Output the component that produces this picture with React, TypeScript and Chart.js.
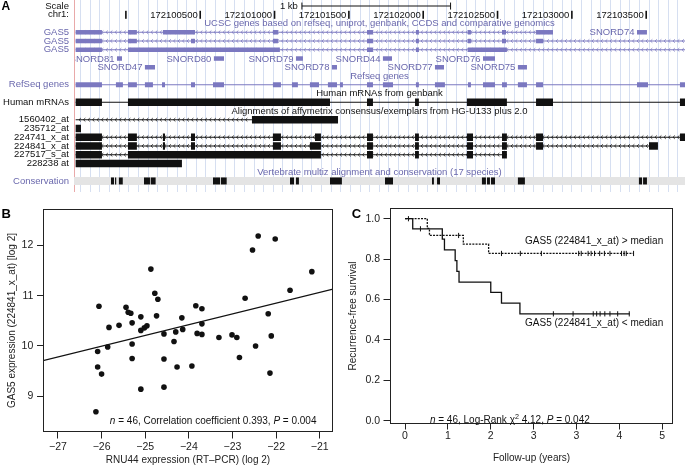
import React, { useEffect, useRef } from 'react';
import { Chart, registerables } from 'chart.js';

Chart.register(...registerables);

const FONT = '"Liberation Sans", Arial, Helvetica, sans-serif';
const LAV = '#7b78c0';
const LAV_TEXT = '#6a68ad';
const GUIDE = '#d6dff1';
const INK = '#222222';

// ================= Panel A : genome browser data =================
const ROW_NAMES = ['Scale', 'chr1:', '', 'GAS5', 'GAS5', 'GAS5', '', '', '', 'RefSeq genes', '', 'Human mRNAs', '',
  '1560402_at', '235712_at', '224741_x_at', '224841_x_at', '227517_s_at', '228238 at', '', 'Conservation'];
const LAV_ROWS = [3, 4, 5, 9, 20];
const VIEW_START = 172099651;
const VIEW_END = 172103761;
const CHR_TICKS = [172100000, 172100500, 172101000, 172101500, 172102000, 172102500, 172103000, 172103500];
const CHR_TICK_LABELS = ['', '172100500', '172101000', '172101500', '172102000', '172102500', '172103000', '172103500'];
const SCALE_BAR = [172101184, 172102184];
const SCALE_LABEL = '1 kb';
const TRACK_TITLES = [
  'UCSC genes based on refseq, uniprot, genbank, CCDS and comparative genomics',
  'Refseq genes',
  'Human mRNAs from genbank',
  'Alignments of affymetrix consensus/exemplars from HG-U133 plus 2.0',
  'Vertebrate multiz alignment and conservation (17 species)',
];
const TRACK_TITLE_ROWS = [2, 8, 10, 12, 19];
const TRACK_TITLE_LAV = [true, true, false, false, true];

const GENE_START = 172099662;
const GAS5_ROWS = [3, 4, 5];
const GAS5_ENDS = [172102873, 172103800, 172103800];
const GAS5_EXONS = [
  [[172099662, 172099839], [172100014, 172100074], [172100249, 172100465], [172100989, 172101023], [172101622, 172101662],
    [172101951, 172101971], [172102301, 172102321], [172102530, 172102557], [172102759, 172102873]],
  [[172099662, 172099839], [172100014, 172100074], [172100438, 172100465], [172100989, 172101023], [172101622, 172101662],
    [172101951, 172101971], [172102301, 172102321], [172102530, 172102557], [172102759, 172102806]],
  [[172099662, 172099839], [172100014, 172101036], [172101622, 172101662], [172101951, 172101971], [172102301, 172102563]],
];
const SNORD_NAMES = ['SNORD81', 'SNORD47', 'SNORD80', 'SNORD79', 'SNORD78', 'SNORD44', 'SNORD77', 'SNORD76', 'SNORD75', 'SNORD74'];
const SNORD_ROWS = [6, 7, 6, 6, 7, 6, 7, 6, 7, 3];
const SNORD_SPANS = [[172099940, 172099974], [172100128, 172100196], [172100592, 172100660], [172101144, 172101191],
  [172101386, 172101420], [172101729, 172101790], [172102079, 172102140], [172102402, 172102483], [172102637, 172102698],
  [172103438, 172103505]];
const REFSEQ_ROW = 9;
const REFSEQ_EXONS = [[172099662, 172099839], [172099933, 172099980], [172100014, 172100074], [172100128, 172100182],
  [172100243, 172100263], [172100438, 172100465], [172100586, 172100660], [172100989, 172101043], [172101117, 172101157],
  [172101238, 172101299], [172101359, 172101420], [172101440, 172101460], [172101622, 172101662], [172101729, 172101797],
  [172101951, 172101971], [172102079, 172102146], [172102301, 172102321], [172102402, 172102483], [172102530, 172102563],
  [172102637, 172102698], [172102759, 172102806], [172103438, 172103512], [172103727, 172103800]];
const MRNA_ROW = 11;
const MRNA_EXONS = [[172099662, 172099839], [172100014, 172101373], [172101622, 172101662], [172101945, 172101971],
  [172102294, 172102563], [172102759, 172102873], [172103727, 172103800]];
const PROBE_ROWS = [13, 14, 15, 16, 17, 18];
const PROBE_LINES = [[172099662, 172100848], null, [172099662, 172103800], [172099662, 172103579], [172099662, 172102563], null];
const PROBE_BLOCKS = [
  [[172100848, 172101427]],
  [[172099662, 172099698]],
  [[172099662, 172099839], [172100014, 172100074], [172100249, 172100263], [172100438, 172100465], [172100989, 172101043],
    [172101272, 172101312], [172101622, 172101662], [172101945, 172101971], [172102294, 172102335], [172102530, 172102563],
    [172102759, 172102806], [172103727, 172103800]],
  [[172099662, 172099839], [172100014, 172100074], [172100249, 172100263], [172100438, 172100465], [172100989, 172101043],
    [172101238, 172101312], [172101622, 172101662], [172101945, 172101971], [172102294, 172102335], [172102530, 172102563],
    [172102759, 172102806], [172103519, 172103579]],
  [[172099662, 172099839], [172100014, 172101312], [172101622, 172101662], [172101945, 172101971], [172102294, 172102335],
    [172102530, 172102563]],
  [[172099662, 172100377]],
];
const CONS_ROW = 20;
const CONS_BLOCKS = [[172099900, 172099920], [172099927, 172099935], [172099953, 172099979], [172100122, 172100162],
  [172100167, 172100200], [172100586, 172100633], [172100639, 172100678], [172101104, 172101131], [172101144, 172101164],
  [172101373, 172101453], [172101743, 172101797], [172102059, 172102072], [172102093, 172102113], [172102395, 172102422],
  [172102429, 172102449], [172102456, 172102483], [172102637, 172102684], [172103451, 172103472], [172103479, 172103505]];

// guideline spacing (layout only)
const GUIDE_START = 172099696;
const GUIDE_STEP = 64.8;

// ================= Panel B data =================
const B_X = [-26.06, -25.83, -25.60, -25.44, -25.39, -25.33, -25.30, -25.10, -25.10, -25.02, -24.96, -24.87, -24.78,
  -24.71, -24.74, -24.57, -24.30, -24.16, -24.14, -23.84, -23.70, -23.70, -23.81, -23.70, -23.01, -22.71, -22.54,
  -22.41, -22.02, -21.68, -21.18, -22.18, -22.11, -24.34, -23.31, -22.90, -22.84, -22.47, -22.14, -26.09, -25.86,
  -26.09, -26.00, -25.30, -25.30, -25.10, -24.57, -24.57, -24.27, -23.93, -26.13];
const B_Y = [10.79, 10.37, 10.41, 10.77, 10.67, 10.65, 10.46, 10.58, 10.31, 10.36, 10.40, 11.53, 11.05,
  10.93, 10.60, 10.24, 10.28, 10.56, 10.33, 10.80, 10.74, 10.44, 10.25, 10.23, 10.22, 10.95, 11.91,
  12.19, 12.13, 11.11, 11.48, 10.64, 10.20, 10.09, 10.17, 10.17, 9.77, 10.00, 9.46, 9.89, 9.98,
  9.58, 9.44, 10.04, 9.75, 9.14, 9.74, 9.18, 9.58, 9.60, 8.69];
const B_FIT_INTERCEPT = 15.555;
const B_FIT_SLOPE = 0.2138;
const B_X_TICKS = [-27, -26, -25, -24, -23, -22, -21];
const B_Y_TICKS = [9, 10, 11, 12];
const B_X_TITLE = 'RNU44 expression (RT\u2013PCR) (log 2)';
const B_Y_TITLE = 'GAS5 expression (224841_x_at) [log 2]';
const B_NOTE: [string, string][] = [['n', 'i'], [' = 46, Correlation coefficient 0.393, ', 'n'], ['P', 'i'], [' = 0.004', 'n']];

// ================= Panel C data =================
const C_LOW_T = [0, 0.18, 0.87, 0.92, 1.17, 1.21, 1.26, 2.00, 2.25, 2.68, 5.24];
const C_LOW_S = [1.0, 0.950, 0.899, 0.846, 0.792, 0.739, 0.686, 0.635, 0.582, 0.529, 0.529];
const C_HIGH_T = [0, 0.52, 0.57, 1.36, 1.95, 5.33];
const C_HIGH_S = [1.0, 0.952, 0.917, 0.874, 0.828, 0.828];
const C_LOW_CENSOR = [0.36, 3.46, 3.92, 4.39, 4.47, 4.55, 4.66, 4.78, 4.96, 5.23];
const C_HIGH_CENSOR = [0.08, 1.25, 2.25, 2.69, 3.18, 4.05, 4.11, 4.27, 4.34, 4.42, 4.54, 4.65, 4.78, 5.05, 5.11, 5.16, 5.33];
const C_X_TICKS = [0, 1, 2, 3, 4, 5, 6];
const C_X_TICK_LABELS = ['0', '1', '2', '3', '3', '4', '5'];
const C_Y_TICKS = [0, 0.2, 0.4, 0.6, 0.8, 1.0];
const C_X_TITLE = 'Follow-up (years)';
const C_Y_TITLE = 'Recurrence-free survival';
const C_GROUP_LABELS = ['GAS5 (224841_x_at) > median', 'GAS5 (224841_x_at) < median'];
const C_NOTE: [string, string][] = [['n', 'i'], [' = 46, Log-Rank ', 'n'], ['\u03c7', 'n'], ['2', 's'], [' 4.12, ', 'n'], ['P', 'i'], [' = 0.042', 'n']];

// ---------------- helpers ----------------
function drawRich(ctx: CanvasRenderingContext2D, segs: [string, string][], x: number, y: number, size: number) {
  let cx = x;
  ctx.textAlign = 'left';
  ctx.textBaseline = 'alphabetic';
  for (const [t, st] of segs) {
    const fs = st === 's' ? size * 0.72 : size;
    ctx.font = `${st === 'i' ? 'italic ' : ''}${fs}px ${FONT}`;
    ctx.fillText(t, cx, st === 's' ? y - size * 0.42 : y);
    cx += ctx.measureText(t).width;
  }
}

function survAt(T: number[], S: number[], t: number) {
  let s = S[0];
  for (let i = 0; i < T.length; i++) if (T[i] <= t) s = S[i];
  return s;
}

const boxPlugin = {
  id: 'rbox',
  afterDraw(chart: any) {
    const { ctx, chartArea: a } = chart;
    ctx.save();
    ctx.strokeStyle = INK;
    ctx.lineWidth = 1;
    ctx.strokeRect(a.left + 0.5, a.top + 0.5, a.right - a.left - 1, a.bottom - a.top - 1);
    ctx.restore();
  },
};

function letter(ctx: CanvasRenderingContext2D, t: string, x: number, y: number, size: number) {
  ctx.save();
  ctx.font = `bold ${size}px ${FONT}`;
  ctx.fillStyle = '#000';
  ctx.textAlign = 'left';
  ctx.textBaseline = 'alphabetic';
  ctx.fillText(t, x, y);
  ctx.restore();
}

const baseOpts = {
  responsive: false,
  animation: false as const,
  events: [] as any[],
  plugins: { legend: { display: false }, tooltip: { enabled: false } },
};

// ---------------- Panel A ----------------
function PanelA() {
  const ref = useRef<HTMLCanvasElement>(null);
  useEffect(() => {
    const span = (s: number[], row: number) => ({ x: s, y: row });
    const barDs = (label: string, data: any[], color: string, thick: number, extra: any = {}) => ({
      label, data, backgroundColor: color, barThickness: thick, borderWidth: 0, grouped: false,
      inflateAmount: 0, borderSkipped: false, ...extra,
    });
    const datasets = [
      barDs('snoRNA', SNORD_SPANS.map((s, i) => span(s, SNORD_ROWS[i])), LAV, 4.5),
      barDs('GAS5 exons', GAS5_EXONS.flatMap((ex, t) => ex.map((s) => span(s, GAS5_ROWS[t]))), LAV, 4.5),
      barDs('RefSeq', REFSEQ_EXONS.map((s) => span(s, REFSEQ_ROW)), LAV, 5),
      barDs('mRNA', MRNA_EXONS.map((s) => span(s, MRNA_ROW)), '#111', 7.5),
      barDs('probes', PROBE_BLOCKS.flatMap((b, k) => b.map((s) => span(s, PROBE_ROWS[k]))), '#111', 7.5),
      barDs('conservation', CONS_BLOCKS.map((s) => span(s, CONS_ROW)), '#111', 7),
      barDs('GAS5 introns', GAS5_ROWS.map((r, t) => span([GENE_START, GAS5_ENDS[t]], r)), LAV, 1, { chevrons: LAV }),
      barDs('RefSeq line', [span([GENE_START, 172103800], REFSEQ_ROW)], LAV, 1),
      barDs('mRNA line', [span([GENE_START, 172103800], MRNA_ROW)], '#111', 1),
      barDs('probe lines', PROBE_LINES.map((l, k) => (l ? span(l, PROBE_ROWS[k]) : null)).filter(Boolean), '#111', 1, { chevrons: '#111' }),
      barDs('scale', [span(SCALE_BAR, 0)], '#111', 1),
      barDs('cons band', [span([VIEW_START, VIEW_END], CONS_ROW)], '#e4e4e4', 8),
    ];

    const chevronPlugin = {
      id: 'chev',
      afterDatasetDraw(chart: any, args: any) {
        const ds = chart.data.datasets[args.index];
        if (!ds.chevrons) return;
        const { ctx, chartArea: a } = chart;
        ctx.save();
        ctx.beginPath();
        ctx.rect(a.left, a.top, a.right - a.left, a.bottom - a.top);
        ctx.clip();
        ctx.strokeStyle = ds.chevrons;
        ctx.lineWidth = 0.8;
        for (const el of args.meta.data) {
          const p = el.getProps(['x', 'base', 'y'], true);
          const x0 = Math.min(p.x, p.base);
          const x1 = Math.max(p.x, p.base);
          for (let px = x0 + 4; px < x1 - 2; px += 4.5) {
            ctx.beginPath();
            ctx.moveTo(px + 1.2, p.y - 1.7);
            ctx.lineTo(px - 0.6, p.y);
            ctx.lineTo(px + 1.2, p.y + 1.7);
            ctx.stroke();
          }
        }
        ctx.restore();
      },
    };

    const textPlugin = {
      id: 'trackText',
      afterDatasetsDraw(chart: any) {
        const { ctx, chartArea: a, scales } = chart;
        const xs = scales.x;
        const ys = scales.y;
        ctx.save();
        ctx.font = `9.5px ${FONT}`;
        ctx.textBaseline = 'middle';
        // track titles
        ctx.textAlign = 'center';
        TRACK_TITLES.forEach((t, i) => {
          ctx.fillStyle = TRACK_TITLE_LAV[i] ? LAV_TEXT : '#111';
          ctx.fillText(t, (a.left + a.right) / 2, ys.getPixelForValue(TRACK_TITLE_ROWS[i]));
        });
        // chromosome positions
        const cy = ys.getPixelForValue(1);
        ctx.fillStyle = '#111';
        ctx.textAlign = 'right';
        CHR_TICKS.forEach((p, i) => {
          const px = xs.getPixelForValue(p);
          if (CHR_TICK_LABELS[i]) ctx.fillText(CHR_TICK_LABELS[i], px - 2.5, cy + 0.5);
          ctx.fillRect(px - 0.8, cy - 4, 1.6, 8);
        });
        // scale bar ends + label
        const sy = ys.getPixelForValue(0);
        const s0 = xs.getPixelForValue(SCALE_BAR[0]);
        const s1 = xs.getPixelForValue(SCALE_BAR[1]);
        ctx.fillRect(s0 - 0.5, sy - 3.5, 1, 7);
        ctx.fillRect(s1 - 0.5, sy - 3.5, 1, 7);
        ctx.fillText(SCALE_LABEL, s0 - 4, sy + 0.5);
        // snoRNA labels, clipped to the track area
        ctx.beginPath();
        ctx.rect(a.left + 1, a.top, a.right - a.left, a.bottom - a.top);
        ctx.clip();
        ctx.fillStyle = LAV_TEXT;
        SNORD_NAMES.forEach((n, i) => {
          ctx.fillText(n, xs.getPixelForValue(SNORD_SPANS[i][0]) - 2.5, ys.getPixelForValue(SNORD_ROWS[i]) + 0.5);
        });
        ctx.restore();
        letter(ctx, 'A', 1.5, 10, 12);
      },
    };

    const chart = new Chart(ref.current as HTMLCanvasElement, {
      type: 'bar',
      data: { datasets: datasets as any },
      options: {
        ...baseOpts,
        indexAxis: 'y',
        layout: { padding: 0 },
        scales: {
          x: {
            type: 'linear', position: 'bottom', min: VIEW_START, max: VIEW_END, beginAtZero: false,
            afterFit: (s: any) => { s.height = 0; },
            afterBuildTicks: (s: any) => {
              const t = [];
              for (let v = GUIDE_START; v <= VIEW_END; v += GUIDE_STEP) t.push({ value: v });
              s.ticks = t;
            },
            ticks: { display: false },
            grid: { color: GUIDE, lineWidth: 1, drawTicks: false, drawOnChartArea: true, offset: false },
            border: { display: false },
          },
          y: {
            type: 'linear', reverse: true, min: -0.686, max: 21.257, offset: false,
            afterFit: (s: any) => { s.width = 74; },
            afterBuildTicks: (s: any) => { s.ticks = ROW_NAMES.map((_, i) => ({ value: i })); },
            ticks: {
              autoSkip: false, padding: 0,
              font: { family: FONT, size: 9.5, lineHeight: 0.01 },
              color: (c: any) => (LAV_ROWS.includes(c.index) ? LAV_TEXT : '#111'),
              callback: (v: any) => ROW_NAMES[v as number] ?? '',
            },
            grid: { display: false, drawTicks: true, tickLength: 5, offset: false },
            border: { display: true, color: '#e9a9a9', width: 1 },
          },
        },
      } as any,
      plugins: [chevronPlugin, textPlugin],
    });
    return () => chart.destroy();
  }, []);
  return <canvas ref={ref} width={685} height={192} style={{ position: 'absolute', left: 0, top: 0, width: 685, height: 192 }} />;
}

// ---------------- shared axis builder ----------------
function axis(o: any) {
  return {
    type: 'linear',
    position: o.pos,
    min: o.min,
    max: o.max,
    afterFit: (s: any) => { if (o.pos === 'left') s.width = o.size; else s.height = o.size; },
    afterBuildTicks: (s: any) => { s.ticks = o.ticks.map((v: number) => ({ value: v })); },
    ticks: {
      autoSkip: false, padding: o.tickPad, color: INK, maxRotation: 0,
      font: { family: FONT, size: 10.5 },
      callback: o.cb,
    },
    grid: { display: true, drawOnChartArea: false, drawTicks: true, tickLength: o.tickLen, color: INK, tickColor: INK, lineWidth: 1 },
    border: { display: false },
    title: {
      display: true, text: o.title, color: INK,
      font: { family: FONT, size: 10 },
      padding: o.pos === 'left' ? { top: o.titlePad, bottom: 0 } : { top: 0, bottom: o.titlePad },
    },
  };
}

// ---------------- Panel B ----------------
function PanelB() {
  const ref = useRef<HTMLCanvasElement>(null);
  useEffect(() => {
    const X_MIN = -27.343;
    const X_MAX = -20.695;
    const notePlugin = {
      id: 'noteB',
      afterDraw(chart: any) {
        const { ctx, scales } = chart;
        ctx.save();
        ctx.fillStyle = '#111';
        drawRich(ctx, B_NOTE, scales.x.getPixelForValue(-25.81), scales.y.getPixelForValue(8.456), 10);
        ctx.restore();
        letter(ctx, 'B', 1.5, 23.3, 13);
      },
    };
    const chart = new Chart(ref.current as HTMLCanvasElement, {
      type: 'scatter',
      data: {
        datasets: [
          {
            data: B_X.map((x, i) => ({ x, y: B_Y[i] })),
            pointRadius: 2.8, pointBackgroundColor: '#111', pointBorderWidth: 0, pointStyle: 'circle',
          } as any,
          {
            type: 'line',
            data: [X_MIN, X_MAX].map((x) => ({ x, y: B_FIT_INTERCEPT + B_FIT_SLOPE * x })),
            borderColor: '#111', borderWidth: 1.2, pointRadius: 0, fill: false,
          } as any,
        ],
      },
      options: {
        ...baseOpts,
        layout: { padding: { top: 14, right: 12, left: 0, bottom: 0 } },
        scales: {
          x: axis({ pos: 'bottom', min: X_MIN, max: X_MAX, size: 35, ticks: B_X_TICKS, tickPad: 1.9, tickLen: 6.5,
            title: B_X_TITLE, titlePad: 0.3,
            cb: (v: number) => (v < 0 ? '\u2212' + Math.abs(v) : String(v)) }),
          y: axis({ pos: 'left', min: 8.287, max: 12.727, size: 43, ticks: B_Y_TICKS, tickPad: 3.7, tickLen: 6,
            title: B_Y_TITLE, titlePad: 6, cb: (v: number) => String(v) }),
        },
      } as any,
      plugins: [boxPlugin, notePlugin],
    });
    return () => chart.destroy();
  }, []);
  return <canvas ref={ref} width={345} height={272} style={{ position: 'absolute', left: 0, top: 195, width: 345, height: 272 }} />;
}

// ---------------- Panel C ----------------
function PanelC() {
  const ref = useRef<HTMLCanvasElement>(null);
  useEffect(() => {
    const notePlugin = {
      id: 'noteC',
      afterDraw(chart: any) {
        const { ctx, scales } = chart;
        const xs = scales.x;
        const ys = scales.y;
        ctx.save();
        ctx.fillStyle = '#111';
        ctx.font = `10px ${FONT}`;
        ctx.textAlign = 'left';
        ctx.textBaseline = 'middle';
        ctx.fillText(C_GROUP_LABELS[0], xs.getPixelForValue(2.80), ys.getPixelForValue(0.886));
        ctx.fillText(C_GROUP_LABELS[1], xs.getPixelForValue(2.80), ys.getPixelForValue(0.484));
        drawRich(ctx, C_NOTE, xs.getPixelForValue(0.58), ys.getPixelForValue(-0.011), 10);
        ctx.restore();
        letter(ctx, 'C', 6.7, 22.7, 13);
      },
    };
    const curve = (T: number[], S: number[], dash: number[]) => ({
      type: 'scatter',
      data: T.map((t, i) => ({ x: t, y: S[i] })),
      showLine: true, stepped: 'before', borderColor: '#111', borderWidth: 1.3, borderDash: dash,
      pointRadius: 0, fill: false,
    });
    const censor = (C: number[], T: number[], S: number[]) => ({
      type: 'scatter',
      data: C.map((t) => ({ x: t, y: survAt(T, S, t) })),
      pointStyle: 'line', rotation: 90, pointRadius: 2.6, pointBorderColor: '#111', pointBorderWidth: 1,
      showLine: false,
    });
    const chart = new Chart(ref.current as HTMLCanvasElement, {
      type: 'scatter',
      data: {
        datasets: [
          curve(C_LOW_T, C_LOW_S, []),
          curve(C_HIGH_T, C_HIGH_S, [2, 1.2]),
          censor(C_LOW_CENSOR, C_LOW_T, C_LOW_S),
          censor(C_HIGH_CENSOR, C_HIGH_T, C_HIGH_S),
        ] as any,
      },
      options: {
        ...baseOpts,
        layout: { padding: { top: 13, right: 12, left: 0, bottom: 0 } },
        scales: {
          x: axis({ pos: 'bottom', min: -0.35, max: 6.25, size: 43, ticks: C_X_TICKS, tickPad: 0.2, tickLen: 5.5,
            title: C_X_TITLE, titlePad: 2.7, cb: (_v: number, i: number) => C_X_TICK_LABELS[i] }),
          y: axis({ pos: 'left', min: -0.0163, max: 1.053, size: 45, ticks: C_Y_TICKS, tickPad: 3.5, tickLen: 6.5,
            title: C_Y_TITLE, titlePad: 2.3, cb: (v: number) => v.toFixed(1) }),
        },
      } as any,
      plugins: [boxPlugin, notePlugin],
    });
    return () => chart.destroy();
  }, []);
  return <canvas ref={ref} width={340} height={272} style={{ position: 'absolute', left: 345, top: 195, width: 340, height: 272 }} />;
}

export default function App() {
  return (
    <div style={{ position: 'absolute', left: 0, top: 0, width: 685, height: 467, background: '#fff', overflow: 'hidden' }}>
      <PanelA />
      <PanelB />
      <PanelC />
    </div>
  );
}
